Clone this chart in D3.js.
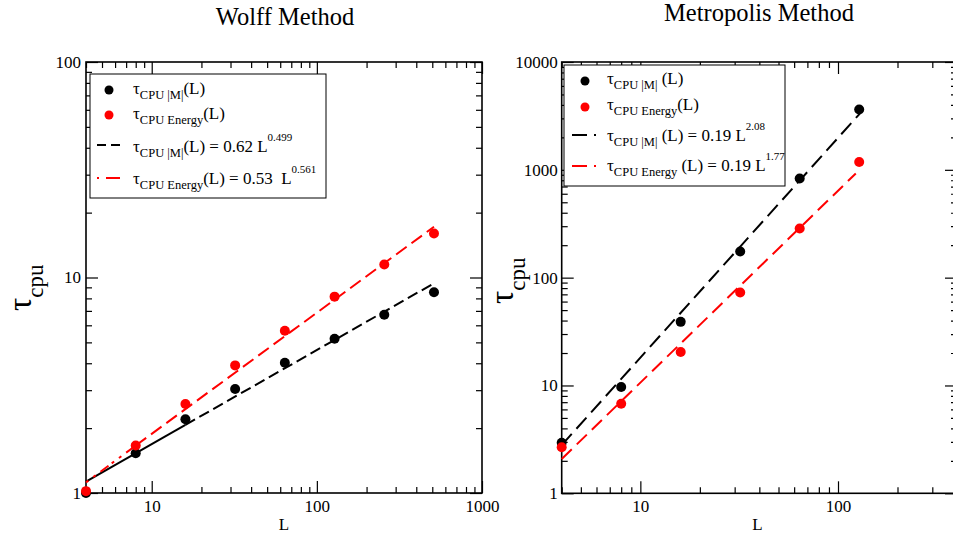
<!DOCTYPE html>
<html><head><meta charset="utf-8">
<script src="https://cdn.jsdelivr.net/npm/d3@7"></script>
<style>
body{margin:0;background:#fff}
svg{display:block}
text{font-family:"Liberation Serif","Times New Roman",serif;white-space:pre}
</style>
</head><body>
<svg id="c" width="953" height="535"></svg>
<script>
// ---------------- data ----------------
const wolffL = [4, 8, 16, 32, 64, 128, 256, 512];
const wolffM = [1.0, 1.53, 2.2, 3.04, 4.02, 5.2, 6.72, 8.54];
const wolffE = [1.02, 1.66, 2.59, 3.91, 5.66, 8.15, 11.5, 16.0];
const wolffFitML = [4, 16, 512];
const wolffFitM = [1.13, 2.07, 9.4];
const wolffFitEL = [4, 8, 512];
const wolffFitE = [1.12, 1.66, 17.2];

const metroL = [4, 8, 16, 32, 64, 128];
const metroM = [2.94, 9.67, 38.9, 175, 830, 3620];
const metroE = [2.67, 6.77, 20.4, 72.9, 286, 1183];
const metroFitML = [4, 129];
const metroFitM = [2.8, 3325];
const metroFitEL = [4, 123];
const metroFitE = [2.08, 925];

const wolffXTicks = [10, 100, 1000];
const wolffYTicks = [1, 10, 100];
const metroXTicks = [10, 100];
const metroYTicks = [1, 10, 100, 1000, 10000];

const titles = ["Wolff Method", "Metropolis Method"];
const xLabel = "L";

const wolffLegend = [
  [["τ", ""], ["CPU |M|", "sub"], ["(L)", ""]],
  [["τ", ""], ["CPU Energy", "sub"], ["(L)", ""]],
  [["τ", ""], ["CPU |M|", "sub"], ["(L) = 0.62 L", ""], ["0.499", "sup"]],
  [["τ", ""], ["CPU Energy", "sub"], ["(L) = 0.53  L", ""], ["0.561", "sup"]]
];
const metroLegend = [
  [["τ", ""], ["CPU |M|", "sub"], [" (L)", ""]],
  [["τ", ""], ["CPU Energy", "sub"], ["(L)", ""]],
  [["τ", ""], ["CPU |M|", "sub"], [" (L) = 0.19 L", ""], ["2.08", "sup"]],
  [["τ", ""], ["CPU Energy", "sub"], [" (L) = 0.19 L", ""], ["1.77", "sup"]]
];

const BLACK = "#000", RED = "#ff0000";
const SERIF = '"Liberation Serif","Times New Roman",serif';
const svg = d3.select("#c");

function richText(g, x, y, parts, size) {
  const t = g.append("text").attr("x", x).attr("y", y).attr("font-size", size);
  let cur = 0;
  parts.forEach(([s, kind]) => {
    const target = kind === "sub" ? 5 : kind === "sup" ? -11 : 0;
    t.append("tspan").attr("dy", target - cur)
      .attr("font-size", kind === "sub" ? 12.5 : kind === "sup" ? 11 : size)
      .text(s);
    cur = target;
  });
  return t;
}

function drawPanel(o) {
  const g = svg.append("g");
  const x = d3.scaleLog().domain(o.xd).range([o.x0, o.x1]);
  const y = d3.scaleLog().domain(o.yd).range([o.y1, o.y0]);

  const xMin = x.ticks().filter(v => !o.xMaj.includes(v));
  const yMin = y.ticks().filter(v => !o.yMaj.includes(v));

  const mk = (fn, scale, vals, size, labels, tr, pad) => {
    const a = fn(scale).tickValues(vals).tickSizeInner(size).tickSizeOuter(0)
      .tickPadding(pad).tickFormat(labels ? d3.format("d") : () => "");
    const ag = g.append("g").attr("transform", tr).call(a)
      .attr("font-family", null).style("font-family", SERIF);
    ag.select(".domain").remove();
    ag.selectAll("line").attr("stroke", "#000").attr("stroke-width", 1.2);
    ag.selectAll("text").style("font-family", SERIF)
      .attr("font-size", 17).attr("fill", "#000");
  };
  // bottom
  mk(d3.axisBottom, x, o.xMaj, -12, true, `translate(0,${o.y1})`, 7);
  mk(d3.axisBottom, x, xMin, -6, false, `translate(0,${o.y1})`, 7);
  // top
  mk(d3.axisTop, x, o.xMaj, -12, false, `translate(0,${o.y0})`, 3);
  mk(d3.axisTop, x, xMin, -6, false, `translate(0,${o.y0})`, 3);
  // left
  mk(d3.axisLeft, y, o.yMaj, -12, true, `translate(${o.x0},0)`, o.yPad);
  mk(d3.axisLeft, y, yMin, -6, false, `translate(${o.x0},0)`, 3);
  // right
  mk(d3.axisRight, y, o.yMaj, -12, false, `translate(${o.x1},0)`, 3);
  mk(d3.axisRight, y, yMin, -6, false, `translate(${o.x1},0)`, 3);

  g.append("rect").attr("x", o.x0).attr("y", o.y0)
    .attr("width", o.x1 - o.x0).attr("height", o.y1 - o.y0)
    .attr("fill", "none").attr("stroke", "#000").attr("stroke-width", 1.6);

  // fit lines (segments)
  const line = d3.line().x(d => x(d[0])).y(d => y(d[1]));
  o.fits.forEach(f => {
    for (let i = 0; i < f.L.length - 1; i++) {
      g.append("path").datum([[f.L[i], f.v[i]], [f.L[i + 1], f.v[i + 1]]])
        .attr("d", line).attr("fill", "none").attr("stroke", f.color)
        .attr("stroke-width", 2).attr("stroke-dasharray", f.dash[i]);
    }
  });

  // points
  o.series.forEach(s => {
    g.selectAll(null).data(s.L.map((l, i) => [l, s.v[i]])).enter()
      .append("circle").attr("cx", d => x(d[0])).attr("cy", d => y(d[1]))
      .attr("r", 5).attr("fill", s.color);
  });

  // legend
  const lg = o.legend;
  g.append("rect").attr("x", lg.x).attr("y", lg.y).attr("width", lg.w).attr("height", lg.h)
    .attr("fill", "#fff").attr("stroke", "#000").attr("stroke-width", 1);
  lg.rows.forEach((r, i) => {
    const ry = lg.rowY[i];
    if (r.type === "dot") {
      g.append("circle").attr("cx", lg.symX).attr("cy", ry).attr("r", 4.5).attr("fill", r.color);
    } else {
      g.append("line").attr("x1", lg.lineX0).attr("x2", lg.lineX1).attr("y1", ry).attr("y2", ry)
        .attr("stroke", r.color).attr("stroke-width", 2).attr("stroke-dasharray", r.dash);
    }
    richText(g, lg.textX, ry + lg.baseOff[i], lg.labels[i], 17);
  });

  // title
  g.append("text").attr("x", o.titleX).attr("y", o.titleY).attr("text-anchor", "middle")
    .attr("font-size", 24.5).text(o.title);
  // x label
  g.append("text").attr("x", (o.x0 + Math.min(o.x1, 953)) / 2).attr("y", 530)
    .attr("text-anchor", "middle").attr("font-size", 17).text(xLabel);
  // y label
  const yl = g.append("text").attr("transform", `translate(${o.ylX},${o.ylY}) rotate(-90)`)
    .attr("font-size", 33);
  yl.append("tspan").text("τ");
  yl.append("tspan").attr("dy", 12).attr("font-size", 23).text("cpu");
}

drawPanel({
  x0: 86, x1: 482, y0: 62, y1: 493, xd: [4, 1000], yd: [1, 100],
  xMaj: wolffXTicks, yMaj: wolffYTicks, yPad: 5,
  title: titles[0], titleX: 285, titleY: 25,
  ylX: 31, ylY: 311,
  fits: [
    { L: wolffFitML, v: wolffFitM, color: BLACK, dash: [null, "11,5"] },
    { L: wolffFitEL, v: wolffFitE, color: RED, dash: ["3,6,3,6,10,4", "13,6"] }
  ],
  series: [
    { L: wolffL, v: wolffM, color: BLACK },
    { L: wolffL, v: wolffE, color: RED }
  ],
  legend: {
    x: 90, y: 74, w: 236, h: 124, symX: 109, lineX0: 97, lineX1: 120, textX: 133,
    rowY: [90, 115, 145, 178], baseOff: [4, 4, 7, 6],
    rows: [
      { type: "dot", color: BLACK }, { type: "dot", color: RED },
      { type: "line", color: BLACK, dash: "9,5" }, { type: "line", color: RED, dash: "2,7,14,0" }
    ],
    labels: wolffLegend
  }
});

drawPanel({
  x0: 561.7, x1: 957, y0: 62, y1: 493.3, xd: [4, 400], yd: [1, 10000],
  xMaj: metroXTicks, yMaj: metroYTicks, yPad: 4,
  title: titles[1], titleX: 759, titleY: 21,
  ylX: 513, ylY: 304,
  fits: [
    { L: metroFitML, v: metroFitM, color: BLACK, dash: ["15,7"] },
    { L: metroFitEL, v: metroFitE, color: RED, dash: ["14,7"] }
  ],
  series: [
    { L: metroL, v: metroM, color: BLACK },
    { L: metroL, v: metroE, color: RED }
  ],
  legend: {
    x: 564, y: 65, w: 221, h: 121, symX: 585, lineX0: 572, lineX1: 596, textX: 607,
    rowY: [81, 107, 135, 166], baseOff: [3, 3, 6, 5],
    rows: [
      { type: "dot", color: BLACK }, { type: "dot", color: RED },
      { type: "line", color: BLACK, dash: "15,7,2,0" }, { type: "line", color: RED, dash: "15,7,2,0" }
    ],
    labels: metroLegend
  }
});
</script>
</body></html>
